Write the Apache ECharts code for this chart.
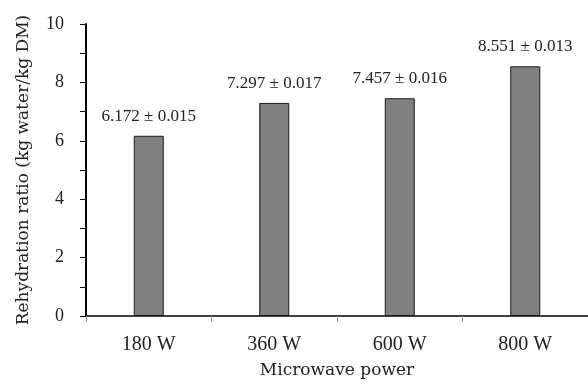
<!DOCTYPE html>
<html>
<head>
<meta charset="utf-8">
<script src="https://cdn.jsdelivr.net/npm/echarts@6/dist/echarts.min.js"></script>
<style>
    html, body { margin: 0; padding: 0; background: #fff; }
    #chart { width: 588px; height: 385px; }
</style>
</head>
<body>
<div id="chart"></div>
<script>
var categories = ['180 W', '360 W', '600 W', '800 W'];
var ratios = [6.172, 7.297, 7.457, 8.551];
var errors = [0.015, 0.017, 0.016, 0.013];

var serif = '"Liberation Serif", "DejaVu Serif", serif';
var wideSerif = '"DejaVu Serif", "Liberation Serif", serif';

var myChart = echarts.init(document.getElementById('chart'));
var option = {
    backgroundColor: '#fff',
    animation: false,
    grid: {
        left: 86,
        right: 0,
        top: 24,
        bottom: 69
    },
    xAxis: {
        type: 'category',
        data: categories,
        name: 'Microwave power',
        nameLocation: 'middle',
        nameGap: 46,
        nameTextStyle: { fontFamily: wideSerif, fontSize: 17, color: '#222' },
        axisLine: { lineStyle: { color: '#000', width: 1.5 } },
        axisTick: { show: true, length: 6, lineStyle: { color: '#999', width: 1 } },
        axisLabel: { fontFamily: serif, fontSize: 20, color: '#222', margin: 19 }
    },
    yAxis: {
        type: 'value',
        min: 0,
        max: 10,
        interval: 2,
        name: 'Rehydration ratio (kg water/kg DM)',
        nameLocation: 'middle',
        nameGap: 54,
        nameTextStyle: { fontFamily: wideSerif, fontSize: 17, color: '#222' },
        splitLine: { show: false },
        axisLine: { show: true, lineStyle: { color: '#000', width: 2 } },
        axisTick: { show: true, length: 6, lineStyle: { color: '#000', width: 1 } },
        minorTick: { show: true, splitNumber: 2, length: 6, lineStyle: { color: '#000', width: 1 } },
        axisLabel: { fontFamily: serif, fontSize: 18, color: '#222', margin: 22 }
    },
    series: [{
        type: 'bar',
        data: ratios,
        barWidth: 30,
        itemStyle: { color: '#808080', borderColor: '#1a1a1a', borderWidth: 1 },
        label: {
            show: true,
            position: 'top',
            distance: 11,
            fontFamily: serif,
            fontSize: 17,
            color: '#222',
            formatter: function (p) {
                return ratios[p.dataIndex].toFixed(3) + ' \u00b1 ' + errors[p.dataIndex].toFixed(3);
            }
        }
    }]
};
myChart.setOption(option);
</script>
</body>
</html>
